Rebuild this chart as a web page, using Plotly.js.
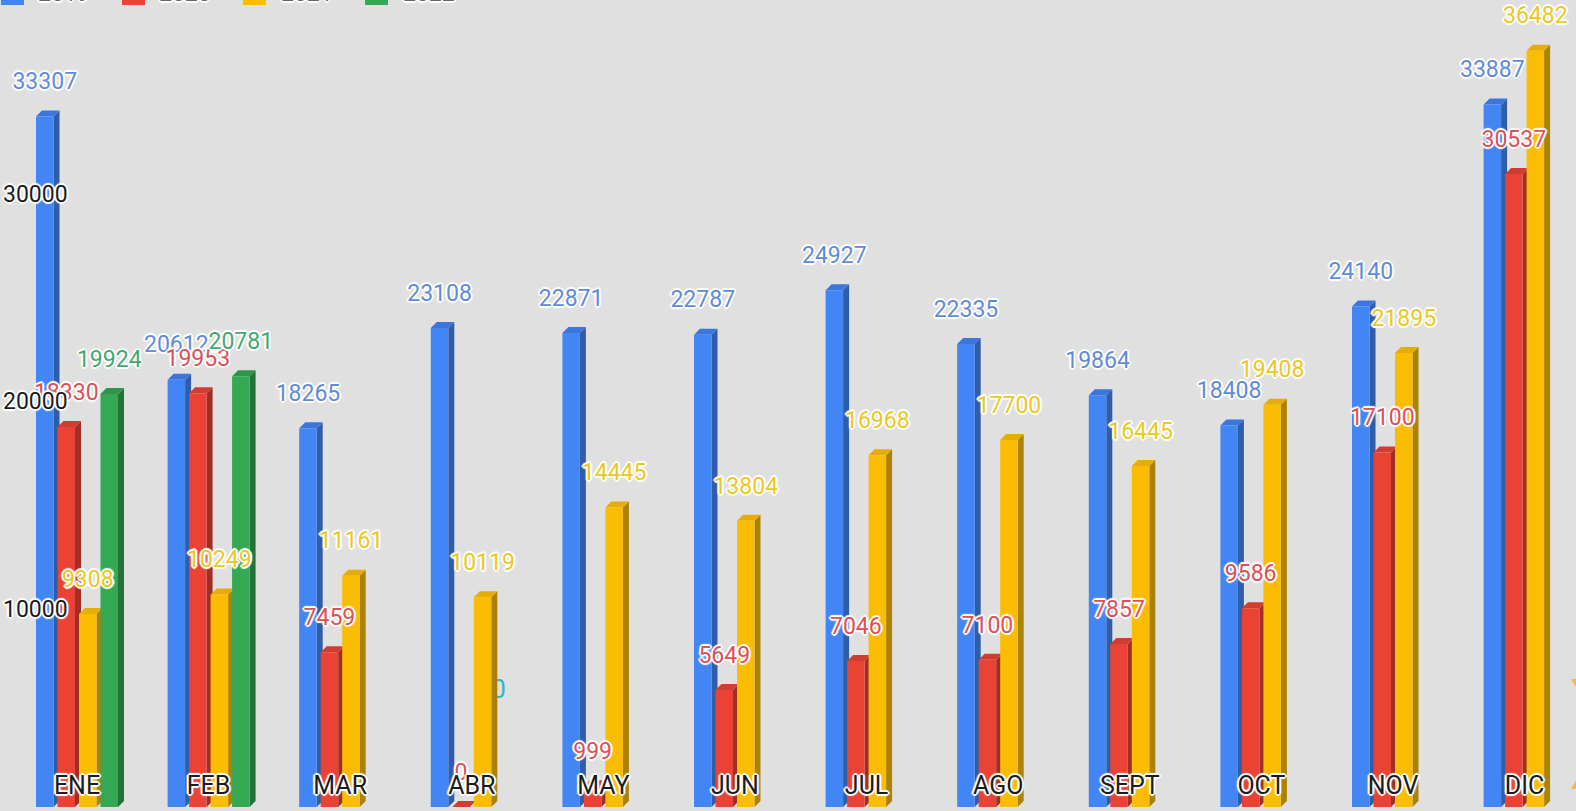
<!DOCTYPE html>
<html><head><meta charset="utf-8">
<script src="https://cdn.plot.ly/plotly-3.0.1.min.js"></script>
<style>html,body{margin:0;padding:0;background:#e0e0e0;overflow:hidden}#c{width:1576px;height:811px}</style>
</head><body><div id="c"></div>
<script>
const categories = ['ENE','FEB','MAR','ABR','MAY','JUN','JUL','AGO','SEPT','OCT','NOV','DIC'];
const series2019 = [33307,20612,18265,23108,22871,22787,24927,22335,19864,18408,24140,33887];
const series2020 = [18330,19953,7459,0,999,5649,7046,7100,7857,9586,17100,30537];
const series2021 = [9308,10249,11161,10119,14445,13804,16968,17700,16445,19408,21895,36482];
const series2022 = [19924,20781,null,null,null,null,null,null,null,null,null,null];
const seriesNames = ['2019','2020','2021','2022'];
const yTicks = [10000,20000,30000];

const W = 1576, H = 811, bottom = 4, plotH = H - bottom;
const pitch = 131.6, pxPerValue = 0.02073, slot = 21.5, barW = 17.5, depth = 6, lift = 6, labelLift = 33, originPx = 77;
const ux = 1 / pitch, uy = 1 / pxPerValue;
const styles = [
  {front:'#4285f4', side:'#2f5da8', top:'#3a76dc', label:'#5f8bd8'},
  {front:'#ea4335', side:'#a12e24', top:'#d13c30', label:'#dd5058'},
  {front:'#fbbc04', side:'#ab8203', top:'#e6ac08', label:'#ecc823'},
  {front:'#34a853', side:'#24743a', top:'#2e964a', label:'#44a870'}
];
const halo = c => ['2px 0 1px','-2px 0 1px','0 2px 1px','0 -2px 1px','1px 1px 1px','-1px -1px 1px','1px -1px 1px','-1px 1px 1px','0 0 3px'].map(s => s + ' ' + c).join(', ');
const fontFamily = 'Roboto, Arial, sans-serif';
const all = [series2019, series2020, series2021, series2022];
const xs = categories.map((_, i) => i);
const centerOf = (i, s) => i + (s - 1.5) * slot * ux;

const barTraces = all.map((vals, s) => ({
  type:'bar', name:seriesNames[s], x:xs, y:vals, marker:{color:styles[s].front, line:{width:0}},
  hoverinfo:'x+y', showlegend:false
}));
const labelTraces = all.map((vals, s) => ({
  type:'scatter', mode:'text', x:xs.map(i => centerOf(i, s)), y:vals.map(v => v === null ? null : v + labelLift * uy),
  text:vals.map(v => v === null ? '' : String(v)), textposition:'middle center', cliponaxis:false,
  textfont:{family:fontFamily, size:23, color:styles[s].label, shadow:halo('#fff')}, hoverinfo:'skip', showlegend:false
}));

const shapes = [];
// stray teal label, sits behind the ABR yellow bar
shapes.push({type:'rect', layer:'below', xref:'x', yref:'y', x0:3 + 7 * ux, x1:3 + 47 * ux, y0:120 * uy - 1000, y1:120 * uy + 1000,
  line:{width:0}, fillcolor:'rgba(0,0,0,0)', label:{text:'0', textposition:'middle center', font:{family:fontFamily, size:25, color:'#2fb4c8'}}});
all.forEach((vals, s) => vals.forEach((v, i) => {
  if (v === null) return;
  const c = centerOf(i, s), x0 = c - barW / 2 * ux, x1 = c + barW / 2 * ux, dx = depth * ux, dy = lift * uy;
  shapes.push({type:'path', layer:'below', xref:'x', yref:'y', line:{width:0}, fillcolor:styles[s].side,
    path:`M${x1},0 L${x1 + dx},${dy} L${x1 + dx},${v + dy} L${x1},${v} Z`});
  shapes.push({type:'path', layer:'below', xref:'x', yref:'y', line:{width:0}, fillcolor:styles[s].top,
    path:`M${x0},${v} L${x0 + dx},${v + dy} L${x1 + dx},${v + dy} L${x1},${v} Z`});
}));
// clipped legend swatches and edge arrows
const swatchLeft = [1,122,243,365], legendTextLeft = [37,158,280,402];
swatchLeft.forEach((x, s) => shapes.push({type:'rect', xref:'paper', yref:'paper', x0:x / W, x1:(x + 23) / W, y0:(plotH - 5) / plotH, y1:(plotH + 4) / plotH, line:{width:0}, fillcolor:styles[s].front}));
const pY = y => (plotH - y) / plotH, pX = x => x / W;
shapes.push({type:'path', xref:'paper', yref:'paper', line:{width:0}, fillcolor:'#f5b93f',
  path:`M${pX(1571)},${pY(679)} L${pX(1590)},${pY(679)} L${pX(1580)},${pY(694)} Z`});
shapes.push({type:'path', xref:'paper', yref:'paper', line:{width:0}, fillcolor:'#f5b93f',
  path:`M${pX(1571)},${pY(789)} L${pX(1590)},${pY(789)} L${pX(1580)},${pY(774)} Z`});

const annotations = seriesNames.map((n, s) => ({text:n, xref:'paper', yref:'paper', x:legendTextLeft[s] / W, y:pY(8), xanchor:'left', yanchor:'bottom',
  showarrow:false, borderpad:0, font:{family:fontFamily, size:23, color:'#666', shadow:halo('#fff')}}));

Plotly.newPlot('c', [...barTraces, ...labelTraces], {
  width:W, height:H, paper_bgcolor:'#e0e0e0', plot_bgcolor:'#e0e0e0', showlegend:false,
  margin:{l:0, r:0, t:0, b:bottom, pad:0, autoexpand:false},
  barmode:'group', bargap:1 - 4 * slot / pitch, bargroupgap:1 - barW / slot,
  xaxis:{range:[-originPx * ux, (W - originPx) * ux], tickmode:'array', tickvals:xs, ticktext:categories, ticklabelposition:'inside', ticklen:0,
    ticklabelstandoff:5, tickfont:{family:fontFamily, size:25, color:'#1c1c1c', shadow:halo('#fff')}, showgrid:false, zeroline:false, showline:false, layer:'above traces', fixedrange:true},
  yaxis:{range:[0, plotH * uy], tickmode:'array', tickvals:yTicks, ticktext:yTicks.map(String), ticklabelposition:'inside', ticklen:0, ticklabelshift:9,
    tickfont:{family:fontFamily, size:23, color:'#1c1c1c', shadow:halo('#fff')}, showgrid:false, zeroline:false, showline:false, layer:'above traces', fixedrange:true},
  shapes, annotations
}, {displayModeBar:false, responsive:false});
</script></body></html>
